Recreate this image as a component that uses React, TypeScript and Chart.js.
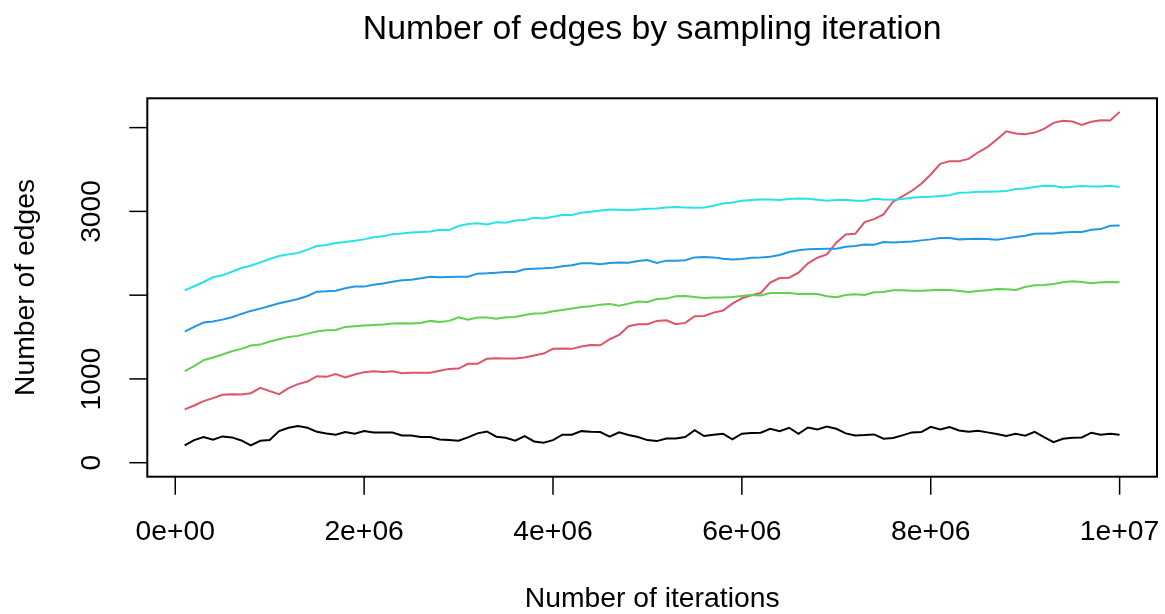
import React, { useEffect, useRef } from 'react';
import { Chart, registerables } from 'chart.js';

Chart.register(...registerables);

// Sampling grid: every 100,000 iterations up to 1e7
const iterations: number[] = Array.from({ length: 100 }, (_, i) => (i + 1) * 100000);

const seriesBlack: number[] = [
  207, 270, 306, 274, 314, 302, 266, 207, 262, 270,
  377, 417, 437, 417, 369, 350, 334, 366, 346, 377,
  362, 360, 360, 326, 326, 306, 306, 278, 270, 262,
  302, 350, 373, 310, 298, 262, 318, 254, 238, 270,
  334, 334, 377, 369, 366, 310, 362, 330, 306, 270,
  258, 290, 290, 306, 389, 318, 334, 346, 278, 346,
  354, 358, 405, 377, 417, 346, 421, 397, 433, 405,
  350, 326, 330, 338, 286, 294, 326, 362, 366, 429,
  397, 425, 385, 369, 381, 362, 342, 318, 346, 322,
  369, 306, 246, 286, 298, 302, 358, 334, 346, 334,
];

const seriesRed: number[] = [
  636, 683, 735, 771, 810, 818, 814, 830, 894, 854,
  818, 890, 938, 969, 1033, 1025, 1057, 1017, 1053, 1081,
  1093, 1083, 1091, 1069, 1073, 1073, 1073, 1097, 1120, 1124,
  1180, 1180, 1240, 1248, 1244, 1244, 1255, 1279, 1303, 1359,
  1363, 1359, 1387, 1406, 1402, 1474, 1526, 1629, 1653, 1653,
  1693, 1700, 1653, 1669, 1748, 1752, 1792, 1816, 1899, 1963,
  1999, 2026, 2149, 2205, 2209, 2269, 2380, 2447, 2487, 2626,
  2725, 2733, 2872, 2908, 2964, 3115, 3179, 3246, 3330, 3441,
  3568, 3600, 3600, 3627, 3703, 3767, 3858, 3957, 3929, 3921,
  3941, 3985, 4057, 4081, 4073, 4033, 4069, 4089, 4085, 4188,
];

const seriesGreen: number[] = [
  1093, 1152, 1224, 1255, 1291, 1331, 1359, 1398, 1410, 1446,
  1474, 1502, 1514, 1541, 1565, 1581, 1585, 1621, 1629, 1637,
  1645, 1649, 1661, 1665, 1661, 1669, 1693, 1681, 1693, 1736,
  1708, 1732, 1732, 1720, 1736, 1740, 1764, 1780, 1784, 1808,
  1824, 1840, 1859, 1867, 1887, 1895, 1875, 1899, 1923, 1919,
  1955, 1959, 1987, 1991, 1979, 1967, 1971, 1971, 1979, 1991,
  2002, 1995, 2026, 2026, 2026, 2014, 2014, 2014, 1987, 1975,
  2002, 2010, 2002, 2034, 2038, 2058, 2058, 2054, 2054, 2058,
  2066, 2062, 2050, 2038, 2050, 2058, 2074, 2070, 2062, 2098,
  2118, 2122, 2133, 2153, 2165, 2157, 2141, 2153, 2157, 2153,
];

const seriesBlue: number[] = [
  1565, 1621, 1673, 1685, 1708, 1736, 1776, 1812, 1839, 1871,
  1903, 1927, 1954, 1990, 2042, 2046, 2054, 2082, 2102, 2102,
  2125, 2140, 2161, 2177, 2185, 2201, 2221, 2213, 2217, 2221,
  2221, 2257, 2261, 2269, 2277, 2277, 2308, 2316, 2320, 2328,
  2344, 2356, 2380, 2380, 2368, 2384, 2390, 2386, 2408, 2420,
  2384, 2412, 2412, 2416, 2451, 2455, 2451, 2435, 2427, 2431,
  2447, 2451, 2459, 2479, 2515, 2535, 2547, 2551, 2555, 2555,
  2578, 2586, 2606, 2602, 2634, 2630, 2634, 2642, 2654, 2666,
  2682, 2682, 2666, 2670, 2674, 2670, 2662, 2678, 2694, 2710,
  2733, 2737, 2737, 2749, 2753, 2753, 2781, 2789, 2829, 2833,
];

const seriesCyan: number[] = [
  2058, 2106, 2157, 2213, 2237, 2280, 2324, 2352, 2392, 2431,
  2467, 2487, 2503, 2543, 2586, 2598, 2622, 2634, 2650, 2666,
  2690, 2702, 2727, 2737, 2749, 2753, 2761, 2781, 2777, 2825,
  2849, 2857, 2845, 2869, 2865, 2892, 2896, 2924, 2916, 2936,
  2956, 2956, 2984, 2996, 3012, 3023, 3019, 3015, 3023, 3031,
  3035, 3047, 3051, 3047, 3043, 3047, 3067, 3095, 3107, 3127,
  3135, 3143, 3143, 3135, 3147, 3155, 3151, 3139, 3127, 3135,
  3139, 3127, 3127, 3151, 3143, 3139, 3147, 3163, 3171, 3175,
  3183, 3194, 3222, 3226, 3234, 3234, 3238, 3242, 3266, 3274,
  3290, 3306, 3302, 3286, 3294, 3302, 3298, 3298, 3306, 3290,
];

const seriesList: number[][] = [seriesBlack, seriesRed, seriesGreen, seriesBlue, seriesCyan];
const seriesColors: string[] = ['#000000', '#DF536B', '#61D04F', '#2297E6', '#28E2E5'];

const xTicks: number[] = [0, 2000000, 4000000, 6000000, 8000000, 10000000];
const xTickLabels: string[] = ['0e+00', '2e+06', '4e+06', '6e+06', '8e+06', '1e+07'];
const yTicks: number[] = [0, 1000, 2000, 3000, 4000];
const yTickLabels: string[] = ['0', '1000', '', '3000', ''];

const titleText = 'Number of edges by sampling iteration';
const xTitle = 'Number of iterations';
const yTitle = 'Number of edges';

const FONT = '"Liberation Sans", Arial, Helvetica, sans-serif';

const rAxesPlugin = {
  id: 'rAxes',
  afterDraw(chart: any) {
    const { ctx, chartArea: a, scales } = chart;
    const xs = scales.x;
    const ys = scales.y;
    ctx.save();
    ctx.strokeStyle = '#000';
    ctx.fillStyle = '#000';
    ctx.lineWidth = 2;
    ctx.strokeRect(a.left, a.top, a.right - a.left, a.bottom - a.top);

    ctx.lineWidth = 1.5;
    ctx.font = `28.3px ${FONT}`;
    ctx.textAlign = 'center';
    ctx.textBaseline = 'alphabetic';
    xTicks.forEach((v, i) => {
      const px = xs.getPixelForValue(v);
      ctx.beginPath();
      ctx.moveTo(px, a.bottom);
      ctx.lineTo(px, a.bottom + 18);
      ctx.stroke();
      ctx.fillText(xTickLabels[i], px, a.bottom + 63);
    });

    yTicks.forEach((v, i) => {
      const py = ys.getPixelForValue(v);
      ctx.beginPath();
      ctx.moveTo(a.left, py);
      ctx.lineTo(a.left - 18, py);
      ctx.stroke();
      if (yTickLabels[i]) {
        ctx.save();
        ctx.translate(a.left - 47, py);
        ctx.rotate(-Math.PI / 2);
        ctx.fillText(yTickLabels[i], 0, 0);
        ctx.restore();
      }
    });

    const cx = (a.left + a.right) / 2;
    const cy = (a.top + a.bottom) / 2;
    ctx.fillText(xTitle, cx, a.bottom + 130);
    ctx.save();
    ctx.translate(a.left - 113, cy);
    ctx.rotate(-Math.PI / 2);
    ctx.fillText(yTitle, 0, 0);
    ctx.restore();

    ctx.font = `33.8px ${FONT}`;
    ctx.fillText(titleText, cx, 39);
    ctx.restore();
  },
};

export default function App() {
  const canvasRef = useRef<HTMLCanvasElement | null>(null);

  useEffect(() => {
    const canvas = canvasRef.current;
    if (!canvas) return;
    const chart = new Chart(canvas, {
      type: 'line',
      data: {
        datasets: seriesList.map((vals, k) => ({
          label: `series ${k + 1}`,
          data: vals.map((v, i) => ({ x: iterations[i], y: v })),
          borderColor: seriesColors[k],
          backgroundColor: seriesColors[k],
          borderWidth: 2,
          pointRadius: 0,
          tension: 0,
          fill: false,
          order: seriesList.length - k,
        })),
      },
      options: {
        responsive: false,
        animation: false,
        devicePixelRatio: 1,
        layout: { padding: { left: 147.3, right: 8, top: 98.3, bottom: 137.3 } },
        plugins: {
          legend: { display: false },
          tooltip: { enabled: false },
          title: { display: false },
        },
        scales: {
          x: { type: 'linear', display: false, min: -296000, max: 10396000 },
          y: { type: 'linear', display: false, min: -167, max: 4350 },
        },
      },
      plugins: [rAxesPlugin],
    });
    return () => chart.destroy();
  }, []);

  return (
    <div style={{ position: 'absolute', left: 0, top: 0, width: 1165, height: 614, background: '#fff' }}>
      <canvas ref={canvasRef} width={1165} height={614} style={{ width: 1165, height: 614, display: 'block' }} />
    </div>
  );
}
